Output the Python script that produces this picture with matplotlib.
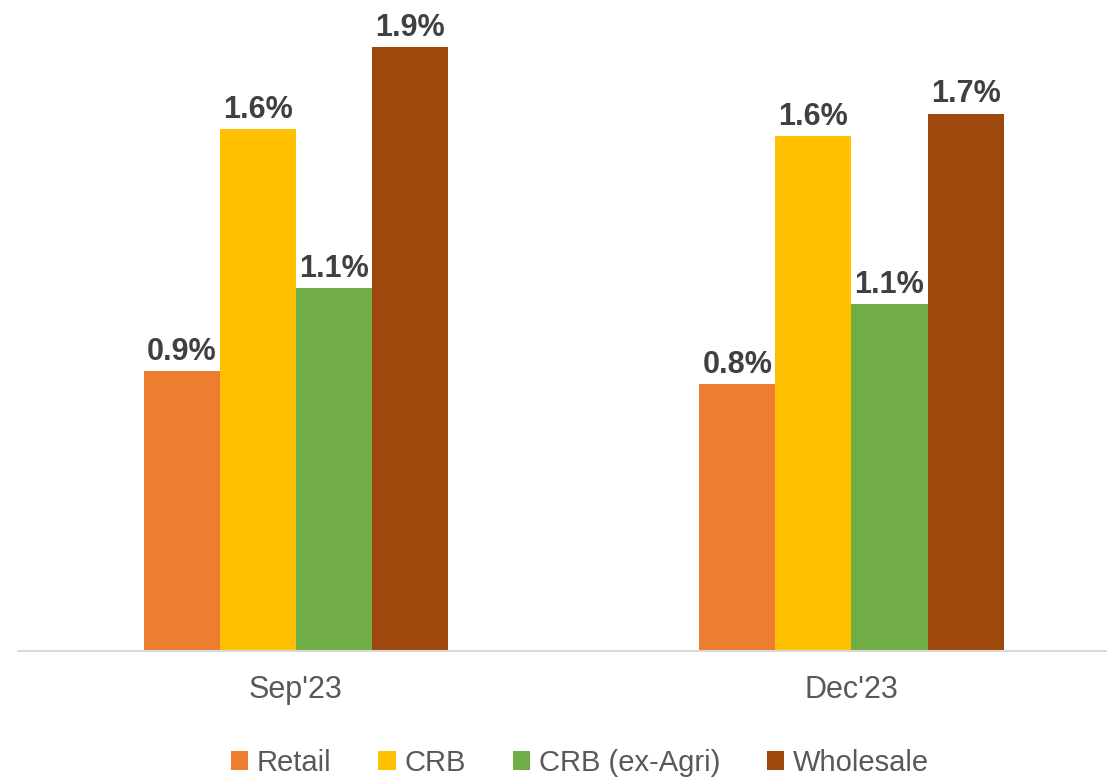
import numpy as np
import matplotlib.pyplot as plt

plt.rcParams['font.family'] = ['Liberation Sans', 'DejaVu Sans']

# Inflation readings per period
periodos = ["Sep'23", "Dec'23"]
series = ["Retail", "CRB", "CRB (ex-Agri)", "Wholesale"]
retail = [0.88, 0.84]
crb = [1.64, 1.62]
crb_ex_agri = [1.14, 1.09]
wholesale = [1.90, 1.69]
cores = ["#ED7D31", "#FFC000", "#70AD47", "#9E480E"]

valores = [retail, crb, crb_ex_agri, wholesale]

fig = plt.figure(figsize=(11.07, 7.77), dpi=100)
ax = fig.add_axes([18 / 1107, 126 / 777, 1 - 18 / 1107, 636 / 777])

x = np.arange(len(periodos))
largura = 0.137
for i, (nome, vals, cor) in enumerate(zip(series, valores, cores)):
    pos = x + (i - 1.5) * largura
    barras = ax.bar(pos, vals, largura, color=cor, label=nome, linewidth=0)
    for b, v in zip(barras, vals):
        ax.annotate(f"{v:.1f}%", (b.get_x() + b.get_width() / 2, v),
                    xytext=(0, 3), textcoords="offset points",
                    ha="center", va="bottom", fontsize=22,
                    fontweight="bold", color="#404040")

ax.set_xlim(-0.5, 1.46)
ax.set_ylim(0, 2.0)
ax.set_yticks([])
ax.set_xticks(x)
ax.set_xticklabels(periodos, fontsize=22, color="#595959")
ax.tick_params(axis="x", length=0, pad=17)
for lado in ["top", "right", "left"]:
    ax.spines[lado].set_visible(False)
ax.spines["bottom"].set_color("#D9D9D9")
ax.spines["bottom"].set_linewidth(1.5)

leg = fig.legend(loc="center", bbox_to_anchor=(0.524, 0.018), ncol=4,
                 frameon=False, fontsize=21, handlelength=0.6,
                 handleheight=0.6, handletextpad=0.3, columnspacing=1.6)
for t in leg.get_texts():
    t.set_color("#595959")

fig.savefig("out.png", dpi=100)
